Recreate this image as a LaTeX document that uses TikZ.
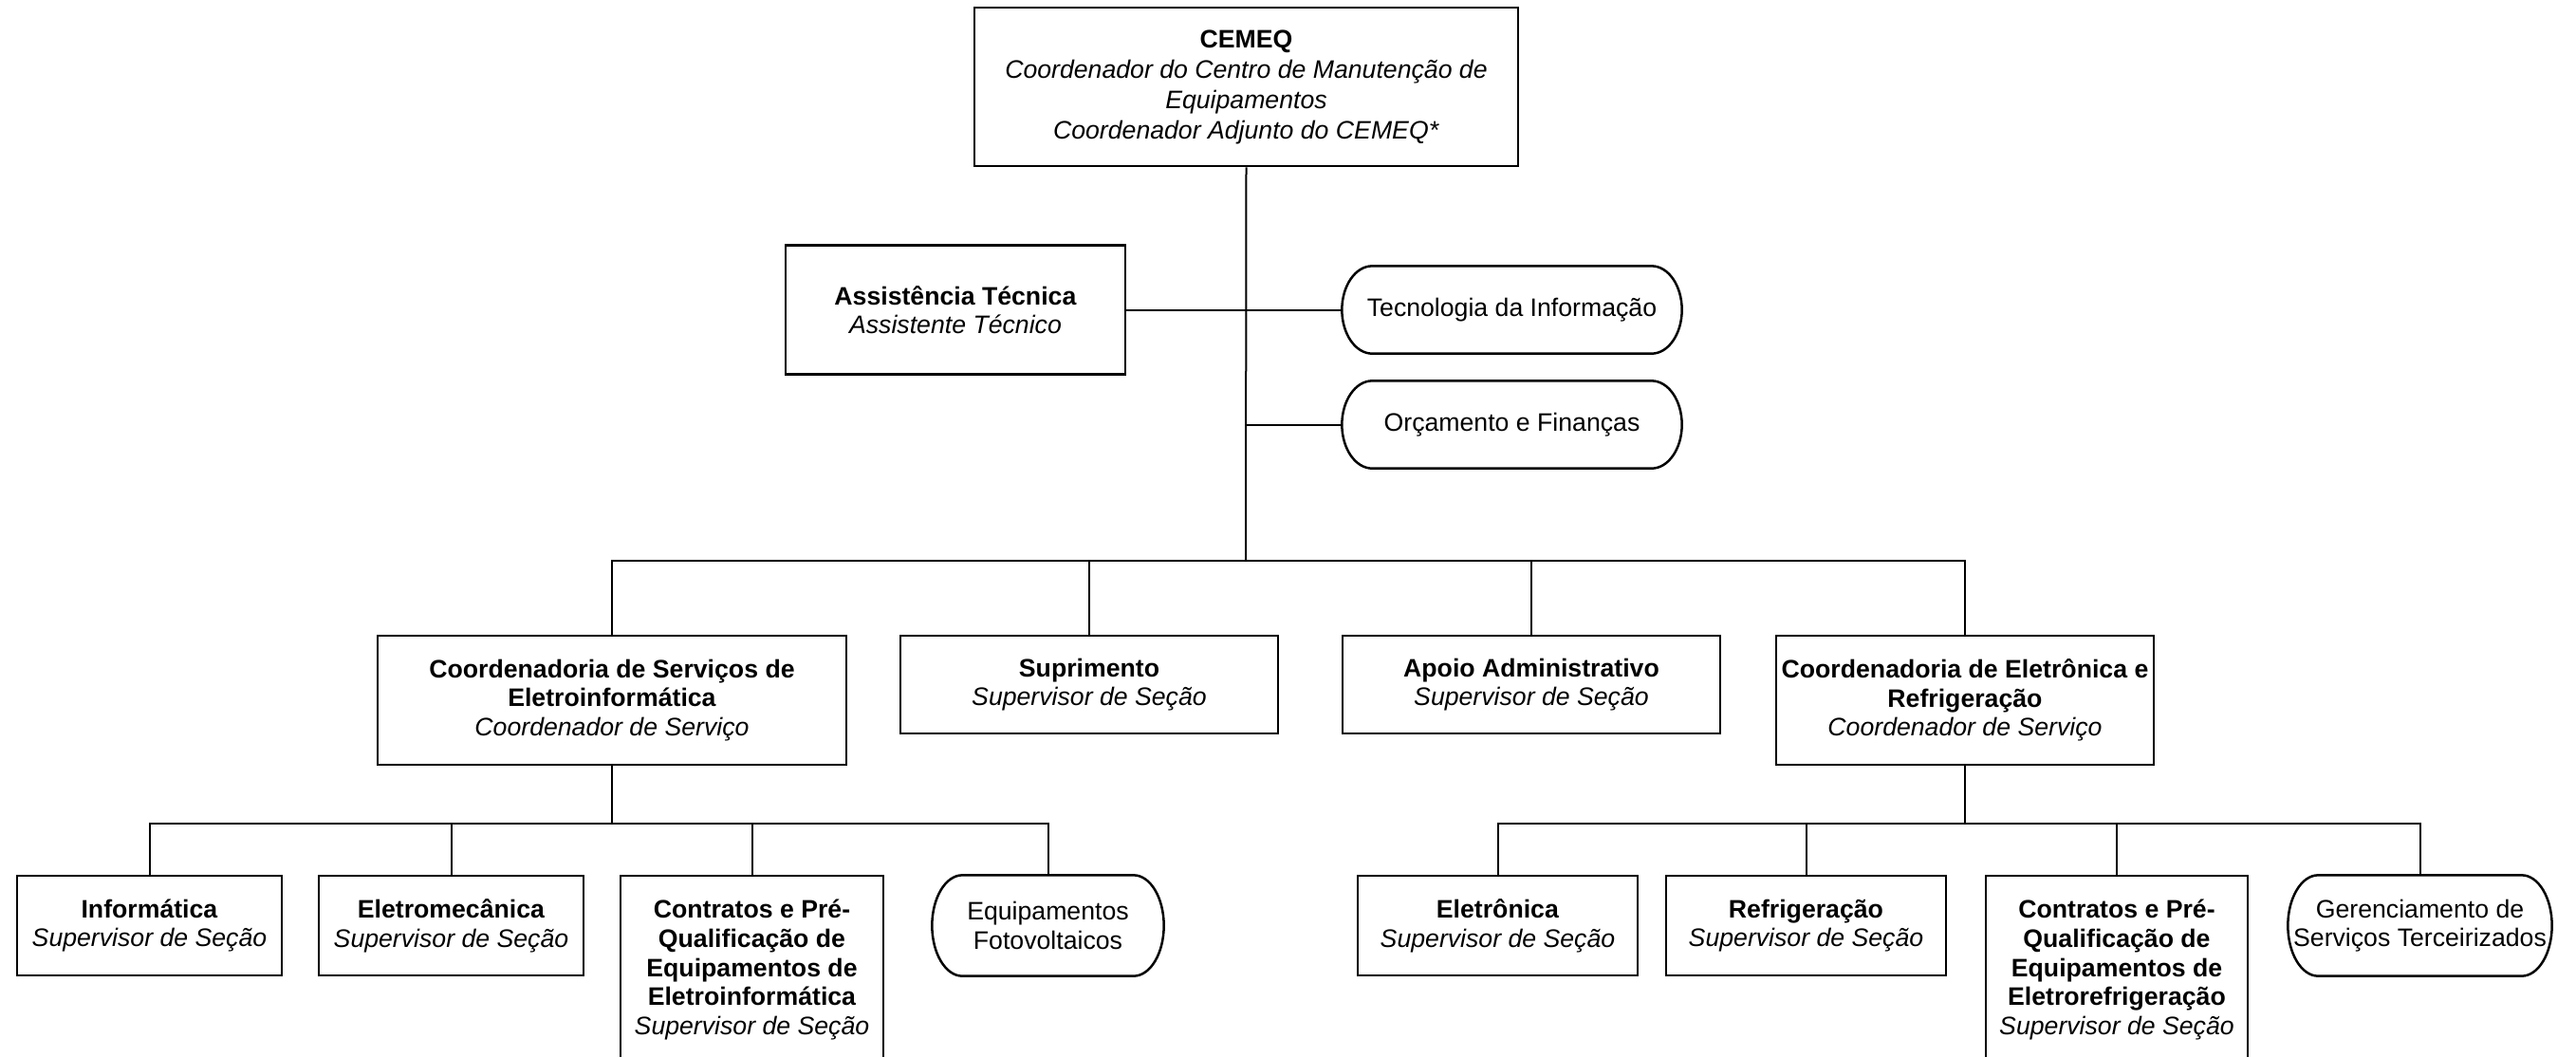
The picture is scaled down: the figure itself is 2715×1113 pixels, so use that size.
\documentclass[tikz,border=0pt]{standalone}
\usepackage{fontspec}
\setmainfont{Liberation Sans}
\usetikzlibrary{calc}
\tikzset{
  box/.style={draw, line width=0.75pt, inner sep=0pt, align=center, font=\fontsize{8pt}{9.2pt}\selectfont},
  termtext/.style={inner sep=0pt, align=center, font=\fontsize{8pt}{9.2pt}\selectfont},
  conn/.style={line width=0.6pt},
  termline/.style={line width=0.75pt},
}
\newcommand\termdraw[1]{%
  \draw[termline] let \p1=(#1.north west), \p2=(#1.south east), \n1={(\y1-\y2)/2} in
    ($(#1.north west)+(9.6pt,0)$) -- ($(#1.north east)+(-9.6pt,0)$)
    arc[start angle=90,end angle=-90,x radius=9.6pt,y radius=\n1]
    -- ($(#1.south west)+(9.6pt,0)$)
    arc[start angle=270,end angle=90,x radius=9.6pt,y radius=\n1] -- cycle;}
\begin{document}
\begin{tikzpicture}[x=0.3pt,y=-0.3pt]
\useasboundingbox (0,0) rectangle (2715,1113);
\fill[white] (0,0) rectangle (2715,1113);
\clip (0,0) rectangle (2715,1113);

% top
\node[box, minimum width=171.9pt, minimum height=50.1pt, font=\fontsize{8pt}{9.6pt}\selectfont] (cemeq) at (1313.5,91.5)
  {\textbf{CEMEQ}\\\textit{Coordenador do Centro de Manutenção de}\\\textit{Equipamentos}\\\textit{Coordenador Adjunto do CEMEQ*}};
\node[box, minimum width=107.4pt, minimum height=40.8pt] (assist) at (1007,326.5)
  {\textbf{Assistência Técnica}\\\textit{Assistente Técnico}};
\node[termtext, minimum width=107.1pt, minimum height=27.3pt] (ti) at (1593.5,326.5) {Tecnologia da Informação};
\node[termtext, minimum width=107.1pt, minimum height=27.3pt] (orc) at (1593.5,447.5) {Orçamento e Finanças};
\termdraw{ti}
\termdraw{orc}

% second row
\node[box, minimum width=148.2pt, minimum height=40.8pt] (coordEI) at (645,738)
  {\textbf{Coordenadoria de Serviços de}\\\textbf{Eletroinformática}\\\textit{Coordenador de Serviço}};
\node[box, minimum width=119.4pt, minimum height=30.9pt] (sup) at (1148,721.5)
  {\textbf{Suprimento}\\\textit{Supervisor de Seção}};
\node[box, minimum width=119.4pt, minimum height=30.9pt] (apoio) at (1614,721.5)
  {\textbf{Apoio Administrativo}\\\textit{Supervisor de Seção}};
\node[box, minimum width=119.4pt, minimum height=40.8pt] (coordER) at (2071,738)
  {\textbf{Coordenadoria de Eletrônica e}\\\textbf{Refrigeração}\\\textit{Coordenador de Serviço}};

% third row left
\node[box, minimum width=83.7pt, minimum height=31.5pt] (info) at (157.5,975.5)
  {\textbf{Informática}\\\textit{Supervisor de Seção}};
\node[box, minimum width=83.7pt, minimum height=31.5pt] (eletromec) at (475.5,975.5)
  {\textbf{Eletromecânica}\\\textit{Supervisor de Seção}};
\node[box, minimum width=83.1pt, minimum height=59.4pt] (contEI) at (792.5,1022)
  {\textbf{Contratos e Pré-}\\\textbf{Qualificação de}\\\textbf{Equipamentos de}\\\textbf{Eletroinformática}\\\textit{Supervisor de Seção}};
\node[termtext, minimum width=72.9pt, minimum height=31.5pt] (equip) at (1104.5,975.5) {Equipamentos\\Fotovoltaicos};
\termdraw{equip}

% third row right
\node[box, minimum width=88.5pt, minimum height=31.5pt] (eletronica) at (1578.5,975.5)
  {\textbf{Eletrônica}\\\textit{Supervisor de Seção}};
\node[box, minimum width=88.5pt, minimum height=31.5pt] (refrig) at (1903.5,975.5)
  {\textbf{Refrigeração}\\\textit{Supervisor de Seção}};
\node[box, minimum width=82.8pt, minimum height=59.4pt] (contER) at (2231,1022)
  {\textbf{Contratos e Pré-}\\\textbf{Qualificação de}\\\textbf{Equipamentos de}\\\textbf{Eletrorefrigeração}\\\textit{Supervisor de Seção}};
\node[termtext, minimum width=83.1pt, minimum height=31.5pt] (geren) at (2550.5,975.5) {Gerenciamento de\\Serviços Terceirizados};
\termdraw{geren}

% connectors
\coordinate (bus1) at (1313,591);
\coordinate (bus2) at (645,868);
\coordinate (bus3) at (2071,868);
\draw[conn] (cemeq.south) -- (bus1);
\draw[conn] (assist.east) -- (ti.west);
\draw[conn] (orc.west) -- (orc.west -| bus1);
\draw[conn] (coordEI.north) |- (bus1) -| (coordER.north);
\draw[conn] (sup.north) -- (sup.north |- bus1);
\draw[conn] (apoio.north) -- (apoio.north |- bus1);

\draw[conn] (coordEI.south) -- (bus2);
\draw[conn] (info.north) |- (bus2) -| (equip.north);
\draw[conn] (eletromec.north) -- (eletromec.north |- bus2);
\draw[conn] (contEI.north) -- (contEI.north |- bus2);

\draw[conn] (coordER.south) -- (bus3);
\draw[conn] (eletronica.north) |- (bus3) -| (geren.north);
\draw[conn] (refrig.north) -- (refrig.north |- bus3);
\draw[conn] (contER.north) -- (contER.north |- bus3);
\end{tikzpicture}
\end{document}
